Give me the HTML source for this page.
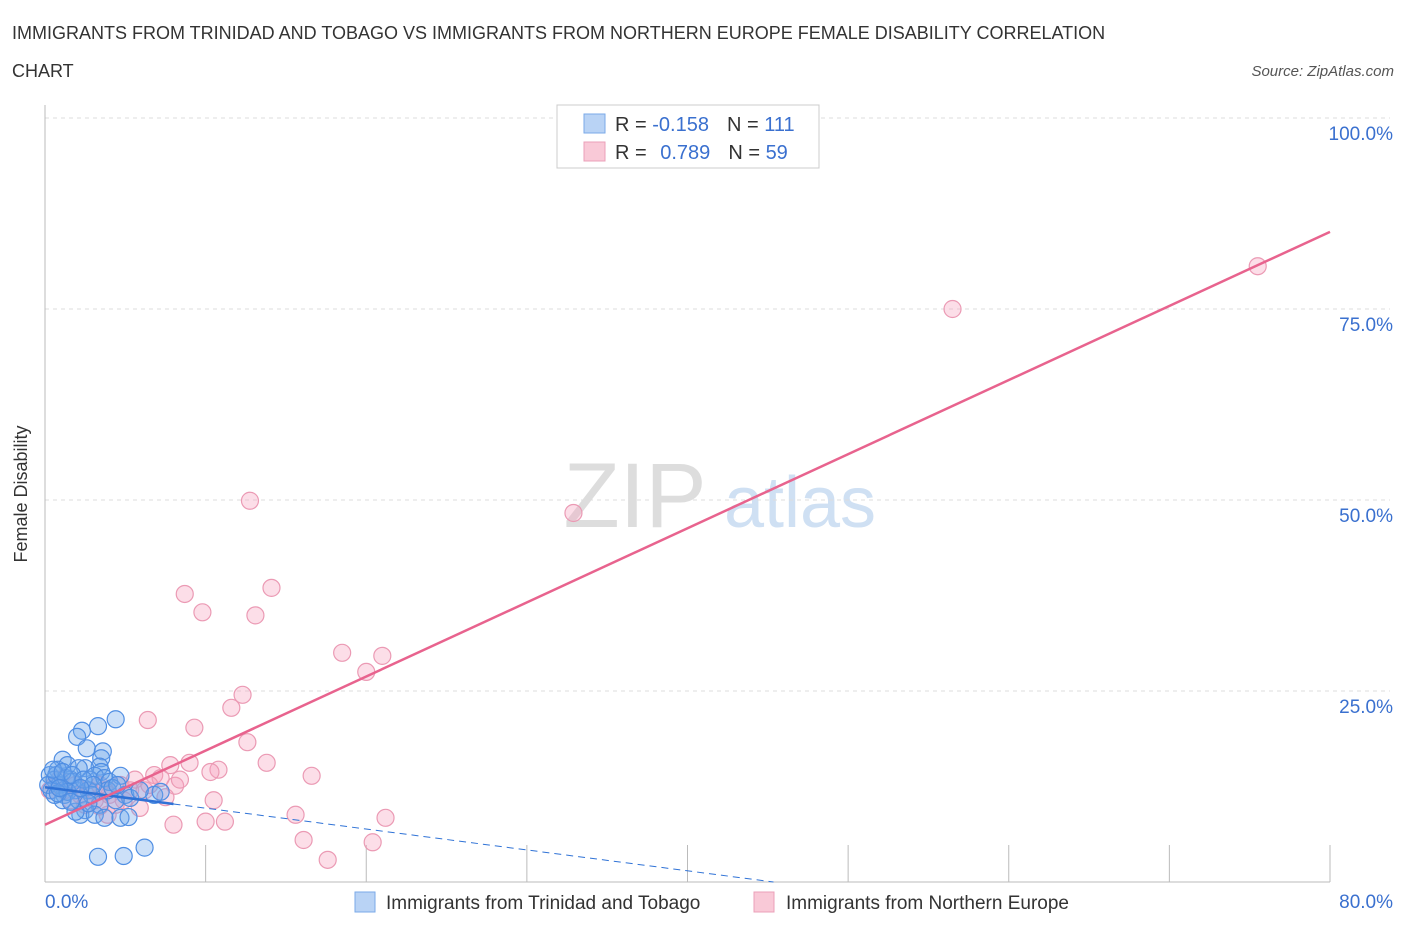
<!DOCTYPE html>
<html><head><meta charset="utf-8"><style>
body{margin:0;background:#fff;font-family:"Liberation Sans",sans-serif}
svg text{font-family:"Liberation Sans",sans-serif}
</style></head><body>
<svg width="1406" height="930" xmlns="http://www.w3.org/2000/svg">
<text x="12" y="39" font-size="18" fill="#333">IMMIGRANTS FROM TRINIDAD AND TOBAGO VS IMMIGRANTS FROM NORTHERN EUROPE FEMALE DISABILITY CORRELATION</text>
<text x="12" y="77" font-size="18" fill="#333">CHART</text>
<text x="1394" y="76" font-size="15" fill="#555" font-style="italic" text-anchor="end">Source: ZipAtlas.com</text>
<text x="27" y="494" font-size="18" fill="#333" text-anchor="middle" transform="rotate(-90 27 494)">Female Disability</text>
<g>
<text x="635" y="527" font-size="92" fill="#ddd" font-family="Liberation Serif" text-anchor="middle">ZIP</text>
<text x="800" y="527" font-size="72" fill="#cfe0f3" text-anchor="middle">atlas</text>
</g>
<g id="grid"></g>
<g id="axes"></g>
<g id="marks"></g>
<g>
<rect x="557" y="105" width="262" height="63" fill="#fff" stroke="#ccc"/>
<rect x="584" y="114" width="21" height="19" fill="#b9d3f5" stroke="#7aaae8"/>
<text x="615" y="131" font-size="20" fill="#333">R = <tspan fill="#3a70cf">-0.158</tspan><tspan dx="18">N = </tspan><tspan fill="#3a70cf">111</tspan></text>
<rect x="584" y="142" width="21" height="19" fill="#f9c9d7" stroke="#eba0b8"/>
<text x="615" y="159" font-size="20" fill="#333">R = <tspan dx="8" fill="#3a70cf">0.789</tspan><tspan dx="18">N = </tspan><tspan fill="#3a70cf">59</tspan></text>
</g>
<g>
<rect x="355" y="892" width="20" height="20" fill="#b9d3f5" stroke="#7aaae8"/>
<text x="386" y="909" font-size="19" fill="#333">Immigrants from Trinidad and Tobago</text>
<rect x="754" y="892" width="20" height="20" fill="#f9c9d7" stroke="#eba0b8"/>
<text x="786" y="909" font-size="19" fill="#333">Immigrants from Northern Europe</text>
</g>
</svg>
<script>
const yTicks=[25,50,75,100];
const yTickLabels=["25.0%","50.0%","75.0%","100.0%"];
const xTicks=[10,20,30,40,50,60,70,80];
const blueX=[4.4,3.3,2.3,2.0,2.6,1.1,3.6,3.5,1.4,3.4,2.5,3.5,2.1,0.8,0.3,0.6,0.9,1.6,1.9,1.2,0.4,0.2,2.8,3.1,3.7,4.0,4.7,5.0,5.3,4.4,3.4,2.5,2.2,1.9,3.1,3.7,4.7,5.2,6.8,7.2,3.3,4.9,6.2,1.1,0.6,0.7,1.3,1.7,2.7,2.9,3.9,4.2,4.5,5.9,1.4,0.8,0.5,1.1,1.7,2.4,3.0,2.1,2.7,0.9,1.6,2.2];
const blueY=[21.3,20.4,19.8,19.0,17.5,16.0,17.1,16.2,15.3,15.1,14.9,14.4,14.9,14.7,14.0,13.4,12.7,13.4,12.0,11.4,12.0,12.7,13.4,13.9,13.6,13.1,13.9,11.4,11.0,10.7,10.1,9.4,8.8,9.2,8.8,8.4,8.4,8.5,11.4,11.8,3.3,3.4,4.5,10.7,11.4,14.0,13.6,13.1,12.0,11.4,12.0,12.3,12.7,12.0,11.8,11.6,14.7,14.4,14.0,13.4,12.7,10.7,10.3,12.3,10.5,12.3];
const pinkX=[12.76,32.9,56.5,75.5,8.7,9.8,14.1,13.1,18.5,21.0,20.0,12.3,11.6,6.4,9.3,12.6,9.0,13.8,10.8,10.3,16.6,7.8,8.1,6.8,10.5,8.0,10.0,11.2,15.6,21.2,16.1,17.6,20.4,5.9,4.9,3.9,3.4,0.9,0.3,2.2,2.8,4.7,5.6,7.2,7.5,5.3,4.0,3.1,1.6,1.2,0.6,2.5,4.4,6.2,6.5,3.4,1.9,8.4,3.7];
const pinkY=[49.9,48.3,75.0,80.6,37.7,35.3,38.5,34.9,30.0,29.6,27.5,24.5,22.8,21.2,20.2,18.3,15.6,15.6,14.7,14.4,13.9,15.3,12.6,14.0,10.7,7.5,7.9,7.9,8.8,8.4,5.5,2.9,5.2,9.7,10.7,8.8,9.9,13.4,12.0,11.4,12.0,12.7,13.4,13.6,11.1,12.0,11.4,10.7,10.7,12.0,12.7,10.1,10.1,12.0,12.7,12.7,12.7,13.4,12.0];
const blueTrend=[12.4,-0.2734];
const pinkTrend=[7.5,0.97];
const X0=45,X1=1330,Y0=882,Ytop=118;
const sx=v=>X0+(v/80)*(X1-X0);
const sy=v=>Y0-(v/100)*(Y0-Ytop);
const NS="http://www.w3.org/2000/svg";
function mk(tag,attrs,parent){const e=document.createElementNS(NS,tag);for(const k in attrs)e.setAttribute(k,attrs[k]);document.getElementById(parent).appendChild(e);return e;}
yTicks.forEach((t,i)=>{
 const l=mk('line',{x1:X0,x2:1390,y1:sy(t),y2:sy(t),stroke:'#ddd','stroke-dasharray':'4,4'},'grid');
 
 
 const tx=mk('text',{x:1393,y:sy(t)+22,'font-size':19,fill:'#3a70cf','text-anchor':'end'},'grid');
 tx.textContent=yTickLabels[i];
 
 
});
const ya=mk('line',{x1:X0,x2:X0,y1:105,y2:Y0,stroke:'#bbb'},'axes');


const xa=mk('line',{x1:X0,x2:X1,y1:Y0,y2:Y0,stroke:'#bbb'},'axes');


xTicks.forEach(t=>{
 const l=mk('line',{x1:sx(t),x2:sx(t),y1:845,y2:Y0,stroke:'#bbb'},'axes');
 
 
});
const xl0=mk('text',{x:45,y:908,'font-size':19,fill:'#3a70cf'},'axes');xl0.textContent='0.0%';


const xl1=mk('text',{x:1393,y:908,'font-size':19,fill:'#3a70cf','text-anchor':'end'},'axes');xl1.textContent='80.0%';


pinkX.forEach((x,i)=>{
 const c=mk('circle',{cx:sx(x),cy:sy(pinkY[i]),r:8.5,fill:'rgba(245,160,190,0.35)',stroke:'#eb9ab4','stroke-width':1.2},'marks');
 
 
});
blueX.forEach((x,i)=>{
 const c=mk('circle',{cx:sx(x),cy:sy(blueY[i]),r:8.5,fill:'rgba(110,165,235,0.35)',stroke:'#4f8ee3','stroke-width':1.2},'marks');
 
 
});
const bz=-blueTrend[0]/blueTrend[1];
const b1=mk('line',{x1:sx(0),y1:sy(blueTrend[0]),x2:sx(8),y2:sy(blueTrend[0]+blueTrend[1]*8),stroke:'#2f72d6','stroke-width':2.5},'marks');


const b2=mk('line',{x1:sx(8),y1:sy(blueTrend[0]+blueTrend[1]*8),x2:sx(bz),y2:sy(0),stroke:'#2f72d6','stroke-width':1,'stroke-dasharray':'7,5'},'marks');


const p=mk('line',{x1:sx(0),y1:sy(pinkTrend[0]),x2:sx(80),y2:sy(pinkTrend[0]+pinkTrend[1]*80),stroke:'#e8638e','stroke-width':2.5},'marks');


</script>
</body></html>
